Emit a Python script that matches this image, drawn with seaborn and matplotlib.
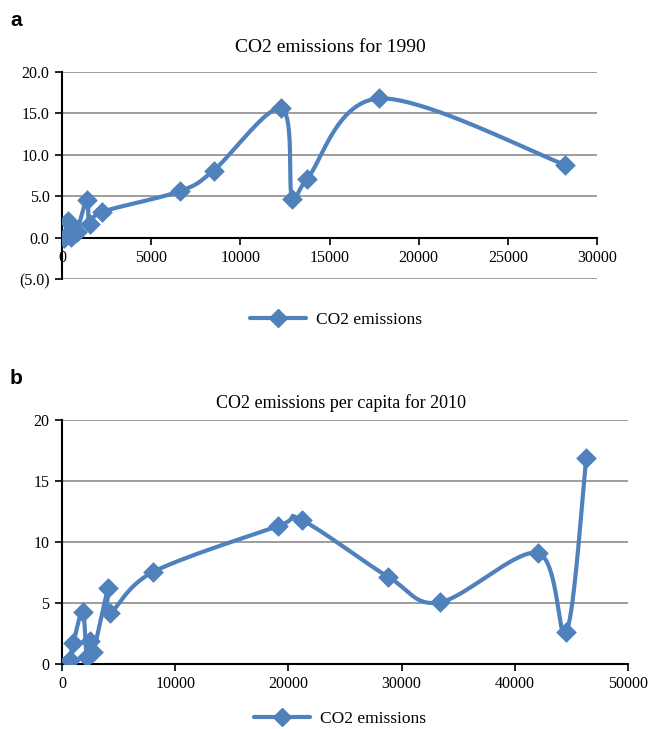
import numpy as np
import pandas as pd
import matplotlib
matplotlib.use("Agg")
import matplotlib.pyplot as plt
import seaborn as sns
from matplotlib.lines import Line2D
from matplotlib.ticker import FuncFormatter

# ---- data ----
gdp_1990 = [100, 350, 500, 820, 1400, 1550, 2250, 6600, 8500, 12300, 12900, 13750, 17800, 28200]
co2_1990 = [-0.1, 2.0, 0.1, 0.7, 4.6, 1.6, 3.1, 5.6, 8.1, 15.6, 4.7, 7.1, 16.8, 8.8]

gdp_2010 = [700, 1000, 1830, 2180, 2470, 2760, 4090, 4240, 8060, 19090, 21160, 28800, 33360, 42040, 44550, 46310]
co2_2010 = [0.35, 1.7, 4.3, 0.6, 1.85, 1.0, 6.2, 4.2, 7.55, 11.3, 11.8, 7.15, 5.05, 9.1, 2.6, 16.9]

series_label = "CO2 emissions"
title_a = "CO2 emissions for 1990"
title_b = "CO2 emissions per capita for 2010"
yticks_a = [-5, 0, 5, 10, 15, 20]
xticks_a = [0, 5000, 10000, 15000, 20000, 25000, 30000]
yticks_b = [0, 5, 10, 15, 20]
xticks_b = [0, 10000, 20000, 30000, 40000, 50000]

COLOR = "#4F81BD"

sns.set_theme(style="white")
plt.rcParams['font.family'] = ['Liberation Serif', 'DejaVu Serif']
plt.rcParams['text.color'] = 'black'
plt.rcParams['axes.labelcolor'] = 'black'


def smooth(xs, ys, n=40):
    """Excel-like smoothed line (Catmull-Rom Bezier) through the points."""
    P = np.column_stack([xs, ys]).astype(float)
    m = len(P)
    out = []
    for i in range(m - 1):
        p0 = P[i - 1] if i > 0 else P[i]
        p1, p2 = P[i], P[i + 1]
        p3 = P[i + 2] if i + 2 < m else P[i + 1]
        c1 = p1 + (p2 - p0) / 6.0
        c2 = p2 - (p3 - p1) / 6.0
        t = np.linspace(0, 1, n)[:, None]
        seg = ((1 - t) ** 3) * p1 + 3 * ((1 - t) ** 2) * t * c1 + 3 * (1 - t) * t ** 2 * c2 + t ** 3 * p2
        if i > 0:
            seg = seg[1:]
        out.append(seg)
    c = np.vstack(out)
    return pd.DataFrame({"x": c[:, 0], "y": c[:, 1]})


def draw(ax, xs, ys):
    curve = smooth(xs, ys)
    sns.lineplot(data=curve, x="x", y="y", sort=False, estimator=None, ax=ax,
                 color=COLOR, lw=3.0, zorder=3)
    pts = pd.DataFrame({"x": xs, "y": ys})
    sns.scatterplot(data=pts, x="x", y="y", ax=ax, marker="D", s=100,
                    color=COLOR, edgecolor=COLOR, linewidth=0.5, zorder=4)
    ax.set_xlabel("")
    ax.set_ylabel("")
    for s in ["top", "right"]:
        ax.spines[s].set_visible(False)
    for s in ["left", "bottom"]:
        ax.spines[s].set_color("black")
        ax.spines[s].set_linewidth(1.5)
    ax.yaxis.grid(True, color="#8c8c8c", lw=1.2)
    ax.xaxis.grid(False)
    ax.set_axisbelow(True)
    ax.tick_params(direction="out", length=5, width=1.2, colors="black",
                   labelsize=11.5, bottom=True, left=True, pad=4)


fig = plt.figure(figsize=(6.51, 7.29), dpi=100)

# ---- panel a ----
ax1 = fig.add_axes([62 / 651, 1 - 279 / 729, (597 - 62) / 651, (279 - 72) / 729])
draw(ax1, gdp_1990, co2_1990)
ax1.set_xlim(0, 30000)
ax1.set_ylim(-5, 20)
ax1.set_xticks(xticks_a)
ax1.set_yticks(yticks_a)
ax1.spines["bottom"].set_position(("data", 0))
ax1.yaxis.set_major_formatter(FuncFormatter(lambda v, p: f"({abs(v):.1f})" if v < 0 else f"{v:.1f}"))

# ---- panel b ----
ax2 = fig.add_axes([62 / 651, 1 - 664 / 729, (628 - 62) / 651, (664 - 420) / 729])
draw(ax2, gdp_2010, co2_2010)
ax2.set_xlim(0, 50000)
ax2.set_ylim(0, 20)
ax2.set_xticks(xticks_b)
ax2.set_yticks(yticks_b)

# ---- titles, panel letters, legends ----
fig.text(330 / 651, 1 - 47 / 729, title_a, ha="center", va="center", fontsize=14)
fig.text(341 / 651, 1 - 403 / 729, title_b, ha="center", va="center", fontsize=13)
fig.text(10 / 651, 1 - 20 / 729, "a", ha="left", va="center", fontsize=15,
         fontweight="bold", family=["Liberation Sans", "DejaVu Sans"])
fig.text(10 / 651, 1 - 378 / 729, "b", ha="left", va="center", fontsize=15,
         fontweight="bold", family=["Liberation Sans", "DejaVu Sans"])

handle = Line2D([], [], color=COLOR, lw=3.0, marker="D", markersize=9)
fig.legend([handle], [series_label], loc="center", bbox_to_anchor=(336 / 651, 1 - 320 / 729),
           frameon=False, fontsize=12.5, handlelength=3.2, handletextpad=0.6)
fig.legend([handle], [series_label], loc="center", bbox_to_anchor=(340 / 651, 1 - 719 / 729),
           frameon=False, fontsize=12.5, handlelength=3.2, handletextpad=0.6)

fig.savefig("out.png", dpi=100)
